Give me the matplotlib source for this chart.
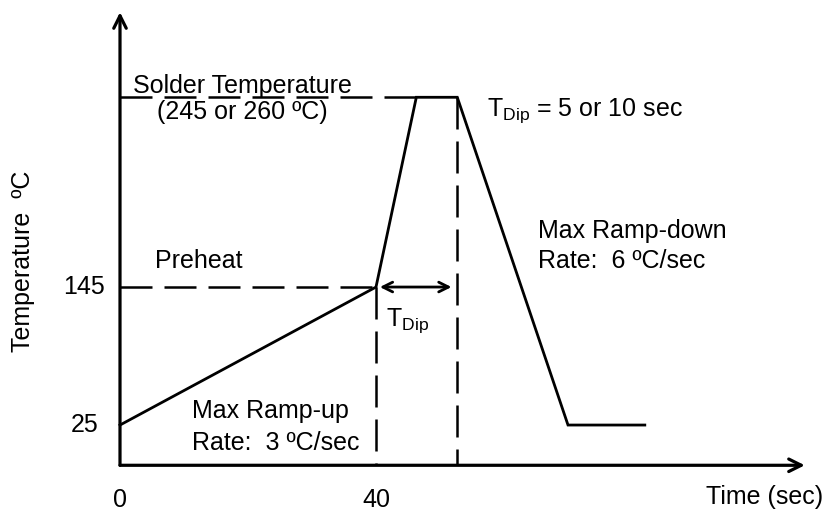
import matplotlib.pyplot as plt

plt.rcParams['font.family'] = ['Liberation Sans', 'DejaVu Sans']
plt.rcParams['mathtext.fontset'] = 'custom'
plt.rcParams['mathtext.rm'] = 'Liberation Sans'

# reflow profile (schematic, not to scale)
time_pts = [0, 40, 46.3, 52.7, 70, 82]
temp_pts = [25, 145, 310, 310, 25, 25]
preheat_t, preheat_T = 40, 145
dip_end_t, solder_T = 52.7, 310
x_ticks = [0, 40]
x_labels = ["0", "40"]
y_ticks = [25, 145]
y_labels = ["25", "145"]
axis_base_T = -10
axis_top_T = 384
axis_end_t = 107

fig = plt.figure(figsize=(8.24, 5.16), dpi=100)
ax = fig.add_axes([0, 0, 1, 1])
ax.set_xlim(-18.75, 110)
ax.set_ylim(-54.1, 394.6)
ax.axis('off')

# axes with arrows
arw = dict(arrowstyle='->,head_length=0.9,head_width=0.45', lw=2.3, color='black',
           shrinkA=0, shrinkB=0)
ax.annotate('', xy=(0, axis_top_T), xytext=(0, axis_base_T), arrowprops=arw)
ax.annotate('', xy=(axis_end_t, axis_base_T), xytext=(0, axis_base_T), arrowprops=arw)

# dashed guide lines
dash = dict(color='black', lw=1.8, dashes=(12.8, 4.8))
ax.plot([0, time_pts[2]], [solder_T, solder_T], **dash)
ax.plot([0, preheat_t], [preheat_T, preheat_T], **dash)
ax.plot([preheat_t, preheat_t], [preheat_T, axis_base_T], **dash)
ax.plot([dip_end_t, dip_end_t], [solder_T, axis_base_T], **dash)

# profile
ax.plot(time_pts, temp_pts, color='black', lw=2.0, solid_joinstyle='miter')

# T dip arrow
ax.annotate('', xy=(51.8, preheat_T), xytext=(40.6, preheat_T),
            arrowprops=dict(arrowstyle='<->,head_length=0.7,head_width=0.35',
                            lw=2.0, color='black', shrinkA=0, shrinkB=0))

fs = 18
for t, lab in zip(x_ticks, x_labels):
    ax.text(t, -40.5, lab, ha='center', va='center', fontsize=fs)
ax.text(-3.4, y_ticks[0], y_labels[0], ha='right', va='center', fontsize=fs)
ax.text(-2.3, y_ticks[1], y_labels[1], ha='right', va='center', fontsize=fs)
ax.text(109.8, -37.5, "Time (sec)", ha='right', va='center', fontsize=fs)
ax.text(-15.2, 167, "Temperature  ºC", rotation=90, ha='center', va='center', fontsize=fs)

ax.text(2.0, 320, "Solder Temperature", ha='left', va='center', fontsize=fs)
ax.text(5.8, 297, "(245 or 260 ºC)", ha='left', va='center', fontsize=fs)
ax.text(57.3, 298, r"T$_{\mathrm{Dip}}$ = 5 or 10 sec", ha='left', va='center', fontsize=fs)
ax.text(65.3, 194, "Max Ramp-down", ha='left', va='center', fontsize=fs)
ax.text(65.3, 168, "Rate:  6 ºC/sec", ha='left', va='center', fontsize=fs)
ax.text(5.5, 168, "Preheat", ha='left', va='center', fontsize=fs)
ax.text(41.5, 116, r"T$_{\mathrm{Dip}}$", ha='left', va='center', fontsize=fs)
ax.text(11.2, 37, "Max Ramp-up", ha='left', va='center', fontsize=fs)
ax.text(11.2, 9, "Rate:  3 ºC/sec", ha='left', va='center', fontsize=fs)

fig.savefig('out.png', dpi=100)
